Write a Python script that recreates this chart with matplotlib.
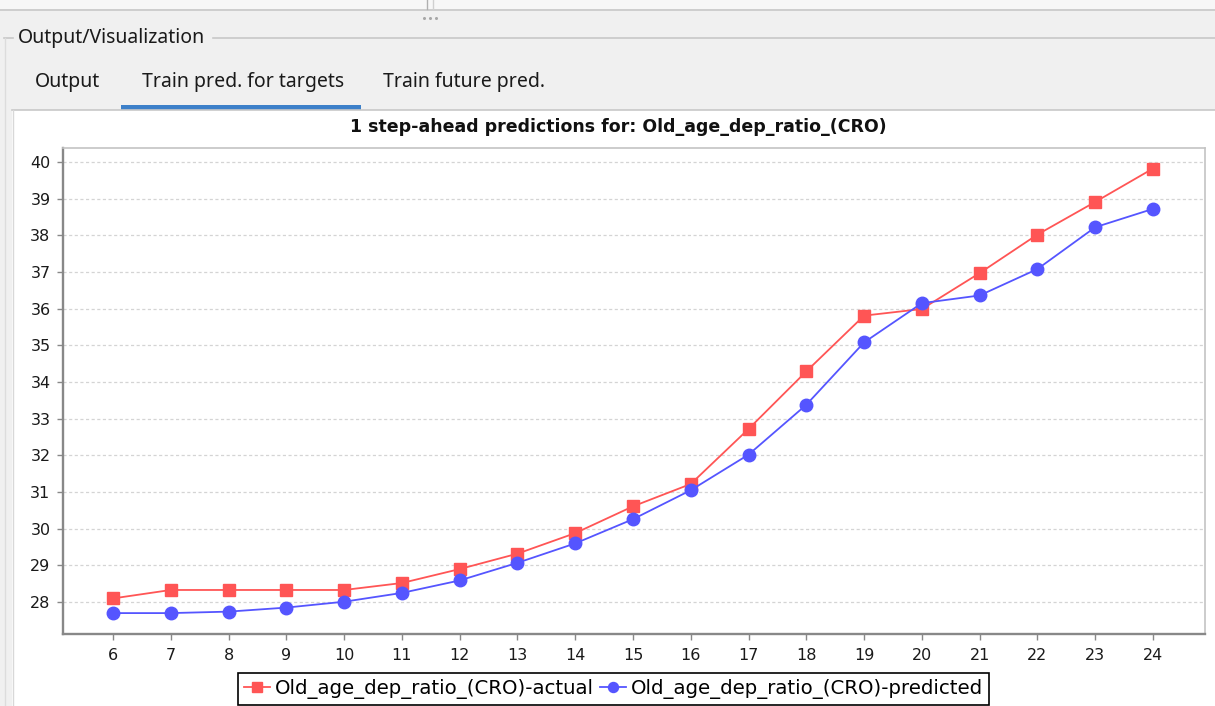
import matplotlib
matplotlib.use("Agg")
import matplotlib.pyplot as plt
from matplotlib.patches import Rectangle

# ---------------- data ----------------
steps = [6, 7, 8, 9, 10, 11, 12, 13, 14, 15, 16, 17, 18, 19, 20, 21, 22, 23, 24]
actual = [28.10, 28.33, 28.33, 28.33, 28.33, 28.52, 28.90, 29.32, 29.88, 30.61,
          31.22, 32.72, 34.29, 35.81, 35.99, 36.97, 38.02, 38.91, 39.82]
predicted = [27.70, 27.70, 27.74, 27.85, 28.01, 28.25, 28.59, 29.07, 29.60, 30.26,
             31.05, 32.02, 33.38, 35.08, 36.15, 36.36, 37.08, 38.22, 38.72]
y_ticks = [28, 29, 30, 31, 32, 33, 34, 35, 36, 37, 38, 39, 40]
series_labels = ["Old_age_dep_ratio_(CRO)-actual", "Old_age_dep_ratio_(CRO)-predicted"]
title_text = "1 step-ahead predictions for: Old_age_dep_ratio_(CRO)"
tab_labels = ["Output", "Train pred. for targets", "Train future pred."]
group_title = "Output/Visualization"

W, H = 1215, 706
fig = plt.figure(figsize=(W / 100, H / 100), dpi=100)
fig.patch.set_facecolor("#f0f0f0")


def fx(x):
    return x / W


def fy(y):
    return 1 - y / H


# ---------------- UI chrome ----------------
ov = fig.add_axes([0, 0, 1, 1])
ov.set_xlim(0, W)
ov.set_ylim(H, 0)
ov.axis("off")
ov.set_zorder(-5)
# top strip
ov.add_patch(Rectangle((0, 0), W, 9, facecolor="#f7f7f7", edgecolor="none"))
ov.plot([0, W], [9.5, 9.5], color="#c8c8c8", lw=1.2)
ov.plot([427, 427], [0, 9], color="#b0b0b0", lw=1)
ov.plot([433, 433], [0, 9], color="#d0d0d0", lw=1)
for dx in (-6, 0, 6):
    ov.plot(430 + dx, 18, marker="o", ms=2.2, color="#a8a8a8", mec="none")
# group box line
ov.plot([4, 13], [37.5, 37.5], color="#c8c8c8", lw=1.2)
ov.plot([213, W], [37.5, 37.5], color="#c8c8c8", lw=1.2)
ov.plot([4.5, 4.5], [37.5, H], color="#dcdcdc", lw=1)
fig.text(fx(18), fy(38), group_title, fontsize=14, family="Noto Sans",
         color="#1a1a1a", va="center", ha="left")
# tabs
tab_x = [35, 142, 383]
for tx, tl in zip(tab_x, tab_labels):
    fig.text(fx(tx), fy(82), tl, fontsize=14, family="Noto Sans",
             color="#1a1a1a", va="center", ha="left")
# white content panel
ov.add_patch(Rectangle((12, 110), W - 12, H - 110, facecolor="white",
                       edgecolor="none"))
ov.plot([12, W], [109.5, 109.5], color="#c8c8c8", lw=1.2)
ov.plot([12.5, 12.5], [110, H], color="#d8d8d8", lw=1)
ov.add_patch(Rectangle((121, 105), 240, 4.5, facecolor="#3d80c9",
                       edgecolor="none"))

# ---------------- chart ----------------
L, R, T, B = 63, 1205, 148, 634
ax = fig.add_axes([fx(L), fy(B), (R - L) / W, (B - T) / H])
ax.set_facecolor("white")

red = "#ff5555"
blue = "#5555ff"
l1, = ax.plot(steps, actual, color=red, lw=1.3, marker="s", ms=9,
              mec=red, mfc=red, zorder=3)
l2, = ax.plot(steps, predicted, color=blue, lw=1.3, marker="o", ms=9,
              mec=blue, mfc=blue, zorder=3)

ax.set_xlim(5.135, 24.9)
ax.set_ylim(27.13, 40.38)
ax.set_xticks(steps)
ax.set_xticklabels([str(s) for s in steps])
ax.set_yticks(y_ticks)
ax.set_yticklabels([str(v) for v in y_ticks])
ax.grid(axis="y", color="#d4d4d4", lw=0.9, linestyle=(0, (2.5, 2)))
ax.grid(axis="x", visible=False)
ax.set_axisbelow(True)
ax.tick_params(axis="both", direction="out", length=4, width=1,
               color="#888888", labelsize=11.5, labelcolor="#1a1a1a")
ax.tick_params(axis="y", pad=5)
ax.tick_params(axis="x", pad=6)
for lab in ax.get_xticklabels() + ax.get_yticklabels():
    lab.set_family("DejaVu Sans")
for side in ("left", "bottom"):
    ax.spines[side].set_color("#888888")
    ax.spines[side].set_linewidth(1.7)
for side in ("top", "right"):
    ax.spines[side].set_color("#c4c4c4")
    ax.spines[side].set_linewidth(1.2)

fig.text(fx(618), fy(127), title_text, fontsize=12.5, family="DejaVu Sans",
         weight="bold", ha="center", va="center", color="#111111")

leg = fig.legend([l1, l2], series_labels, loc="upper left",
                 bbox_to_anchor=(fx(238), fy(673)), ncol=2, frameon=True,
                 fancybox=False, edgecolor="black", framealpha=1,
                 prop={"family": "DejaVu Sans", "size": 14.2},
                 handlelength=1.3, handletextpad=0.25, columnspacing=0.35,
                 borderpad=0.3, borderaxespad=0, markerscale=0.8)
leg.get_frame().set_linewidth(1.2)

fig.savefig("out.png", dpi=100, facecolor=fig.get_facecolor())
